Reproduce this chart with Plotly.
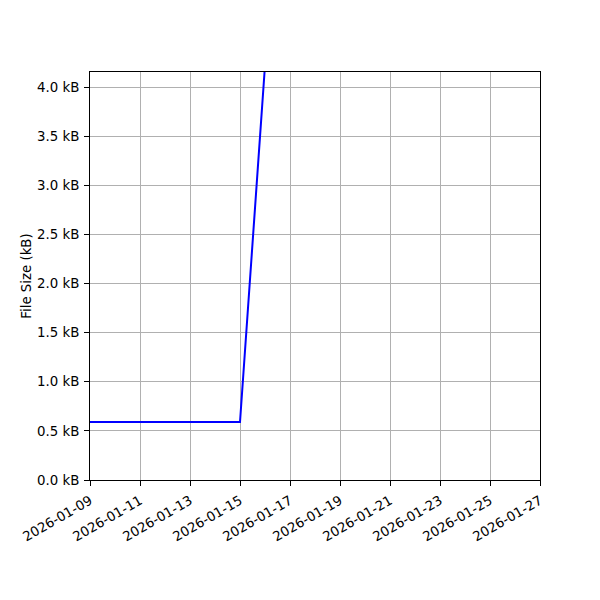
import plotly.graph_objects as go

dates = ["2026-01-09", "2026-01-10", "2026-01-11", "2026-01-12", "2026-01-13",
         "2026-01-14", "2026-01-15", "2026-01-16"]
sizes_kb = [0.59, 0.59, 0.59, 0.59, 0.59, 0.59, 0.59, 4.22]

x_range = ["2026-01-09", "2026-01-27"]
y_range = [0, 4.153]

fig = go.Figure()
fig.add_trace(go.Scatter(x=dates, y=sizes_kb, mode="lines",
                         line=dict(color="#0000ff", width=2), showlegend=False))

font = dict(family="DejaVu Sans", size=13.33, color="black")
fig.update_layout(
    width=592, height=592,
    margin=dict(l=82, r=60, t=64, b=120),
    paper_bgcolor="white", plot_bgcolor="white",
    font=font,
)
fig.update_xaxes(
    range=x_range, type="date", dtick=2 * 86400000, tick0="2026-01-09",
    tickformat="%Y-%m-%d", tickangle=-30, automargin=False,
    showgrid=True, gridcolor="#b0b0b0", gridwidth=1,
    showline=True, linecolor="black", linewidth=1, mirror=True,
    ticks="outside", ticklen=5, tickcolor="black", zeroline=False,
    ticklabelstandoff=2,
)
fig.update_yaxes(
    range=y_range, dtick=0.5, tickformat=".1f", ticksuffix=" kB",
    automargin=False,
    showgrid=True, gridcolor="#b0b0b0", gridwidth=1,
    showline=True, linecolor="black", linewidth=1, mirror=True,
    ticks="outside", ticklen=5, tickcolor="black", zeroline=False,
    ticklabelstandoff=2,
    title=dict(text="File Size (kB)", standoff=2, font=dict(size=13.33)),
)
fig.write_html("out.html")
